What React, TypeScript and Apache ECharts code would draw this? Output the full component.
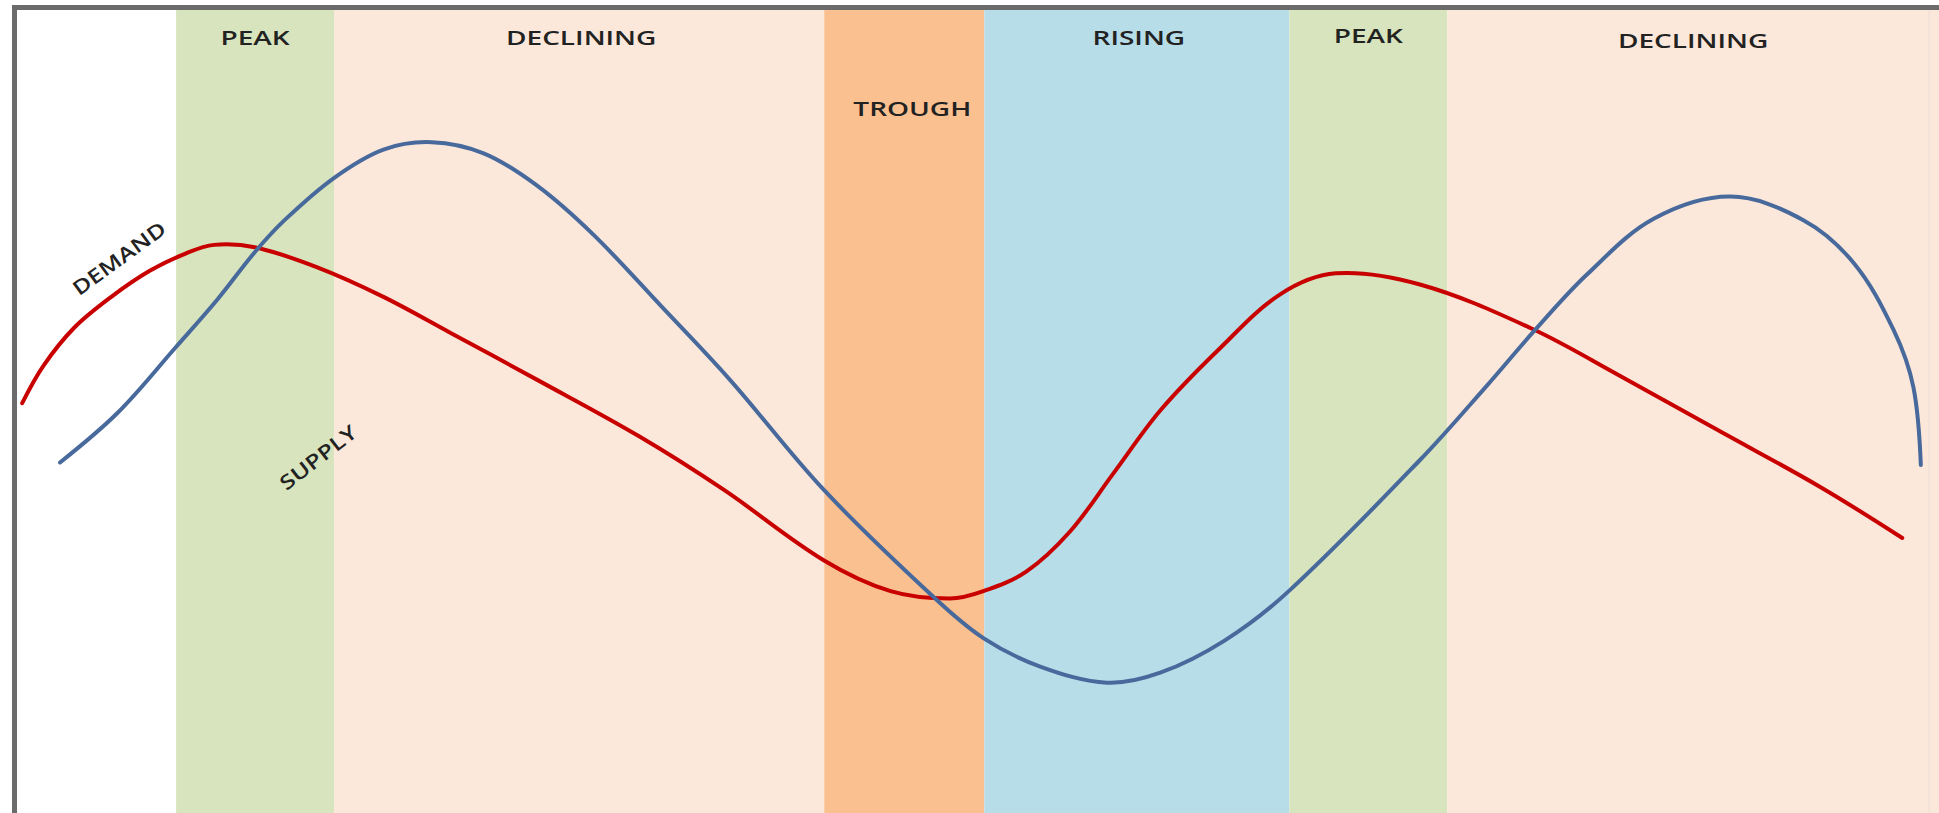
import React, { useEffect, useRef } from "react";
import * as echarts from "echarts";

// ---- Data ----
const phaseLabels = ["PEAK", "DECLINING", "TROUGH", "RISING", "PEAK", "DECLINING"];
const phaseStart = [8.32, 16.58, 42.21, 50.58, 66.53, 74.79];
const phaseEnd = [16.58, 42.21, 50.58, 66.53, 74.79, 100.5];

const demandX = [0.27, 1.37, 2.99, 4.93, 6.94, 8.81, 10.3, 12.43, 15.67, 19.16, 22.65, 27.18, 32.55, 36.95, 42.18, 45.68, 48.78, 50.53, 52.79, 55.05, 57.32, 59.78, 62.81, 66.05, 68.96, 73.36, 79.11, 83.83, 89.07, 94.31, 98.58];
const demandY = [51.04, 55.66, 60.43, 64.28, 67.52, 69.67, 70.75, 70.45, 67.98, 64.28, 59.82, 53.97, 46.88, 40.26, 31.48, 27.63, 26.71, 27.63, 30.09, 35.02, 42.26, 50.12, 57.66, 64.59, 67.21, 65.82, 60.43, 54.43, 47.5, 40.57, 34.25];

const supplyX = [2.25, 5.25, 8.29, 10.49, 12.43, 13.99, 16.57, 19.16, 21.68, 24.4, 27.18, 30.15, 33.71, 37.27, 42.18, 47.94, 50.53, 53.5, 56.99, 59.78, 63.14, 66.5, 73.36, 76.85, 79.31, 82.09, 85.58, 89.59, 93.41, 96.06, 98.13, 99.16, 99.55];
const supplyY = [43.65, 49.81, 57.97, 63.98, 69.83, 73.83, 79.07, 82.61, 83.54, 82.15, 78.15, 71.99, 63.05, 53.97, 40.26, 26.86, 21.78, 18.24, 16.23, 17.47, 21.47, 27.63, 43.96, 53.2, 59.97, 67.06, 73.99, 76.76, 73.83, 68.44, 60.13, 53.04, 43.34];

const curveNames = ["DEMAND", "SUPPLY"];
const curveLabelX = [5.33, 15.74];
const curveLabelY = [69.1, 44.3];

// ---- Styles ----
const phaseColors = ["#d7e4bd", "#fce8da", "#fac090", "#b7dde8", "#d7e4bd", "#fce8da"];
const phaseLabelTop = [37, 37, 108, 37, 35, 40];
const phaseLabelShift = [0, 2, 8, 2, 0, 0];
const curveColors = ["#c80000", "#48699c"];
const curveLabelRotation = [0.63, 0.66];
const curveLabelScale = [1.25, 1.25];
const textColor = "#222222";
const fontFamily = "'Open Sans', 'Liberation Sans', sans-serif";

export default function App() {
  const ref = useRef<HTMLDivElement>(null);

  useEffect(() => {
    if (!ref.current) return;
    const chart = echarts.init(ref.current, null, { renderer: "svg" });

    const zip = (xs: number[], ys: number[]) => xs.map((x, i) => [x, ys[i]]);

    const curveSeries = (name: string, xs: number[], ys: number[], color: string, z: number) => ({
      name,
      type: "custom",
      coordinateSystem: "cartesian2d",
      data: zip(xs, ys),
      encode: { x: 0, y: 1 },
      z,
      silent: true,
      renderItem: (params: any, api: any) => {
        if (params.dataIndex !== 0) return null;
        const pts = xs.map((x, i) => api.coord([x, ys[i]]));
        return {
          type: "polyline",
          shape: { points: pts, smooth: 0.35 },
          style: { fill: "none", stroke: color, lineWidth: 4, lineCap: "round", lineJoin: "round" },
        };
      },
    });

    const option: any = {
      animation: false,
      backgroundColor: "#ffffff",
      grid: { left: 17, right: 0, top: 10, bottom: 0, containLabel: false },
      xAxis: { type: "value", min: 0, max: 100.5, show: false, splitLine: { show: false } },
      yAxis: { type: "value", min: 0, max: 100, show: false, splitLine: { show: false } },
      series: [
        {
          name: "phases",
          type: "custom",
          coordinateSystem: "cartesian2d",
          data: phaseLabels.map((_, i) => [phaseStart[i], phaseEnd[i]]),
          encode: { x: [0, 1] },
          z: 1,
          silent: true,
          renderItem: (params: any, api: any) => {
            const a = api.coord([api.value(0), 100]);
            const b = api.coord([api.value(1), 0]);
            return {
              type: "rect",
              shape: { x: a[0], y: a[1], width: b[0] - a[0], height: b[1] - a[1] },
              style: { fill: phaseColors[params.dataIndex] },
            };
          },
        },
        curveSeries(curveNames[0], demandX, demandY, curveColors[0], 3),
        curveSeries(curveNames[1], supplyX, supplyY, curveColors[1], 4),
      ],
    };
    chart.setOption(option);

    const graphics: any[] = [];
    phaseLabels.forEach((label, i) => {
      const cx = chart.convertToPixel({ xAxisIndex: 0 }, (phaseStart[i] + phaseEnd[i]) / 2) as number;
      graphics.push({
        type: "text",
        x: cx + phaseLabelShift[i],
        y: phaseLabelTop[i],
        scaleX: 1.4,
        z: 10,
        style: {
          text: label,
          fill: textColor,
          font: `600 20px ${fontFamily}`,
          textAlign: "center",
          textVerticalAlign: "middle",
        },
      });
    });
    curveNames.forEach((name, i) => {
      const p = chart.convertToPixel({ gridIndex: 0 }, [curveLabelX[i], curveLabelY[i]]) as number[];
      graphics.push({
        type: "text",
        x: p[0],
        y: p[1],
        rotation: curveLabelRotation[i],
        scaleX: curveLabelScale[i],
        z: 10,
        style: {
          text: name,
          fill: textColor,
          font: `600 20px ${fontFamily}`,
          textAlign: "center",
          textVerticalAlign: "middle",
        },
      });
    });
    // frame
    graphics.push({ type: "rect", z: 20, shape: { x: 12, y: 5, width: 1927, height: 5 }, style: { fill: "#6b6b6b" } });
    graphics.push({ type: "rect", z: 20, shape: { x: 12, y: 5, width: 5, height: 808 }, style: { fill: "#6b6b6b" } });
    graphics.push({ type: "rect", z: 20, shape: { x: 1928, y: 10, width: 2, height: 803 }, style: { fill: "#f3e3d8" } });
    chart.setOption({ graphic: graphics });

    return () => chart.dispose();
  }, []);

  return <div ref={ref} style={{ position: "absolute", left: 0, top: 0, width: 1939, height: 813 }} />;
}
